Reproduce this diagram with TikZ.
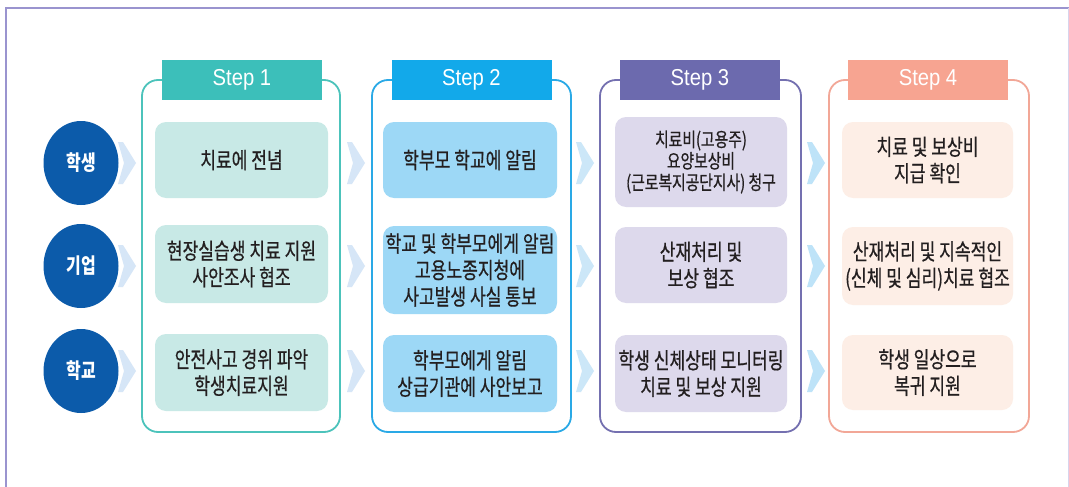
\documentclass[tikz,border=0pt]{standalone}
\usepackage{fontspec}
\newfontfamily\kr[FakeStretch=0.76,FakeBold=0.6]{Noto Sans CJK KR}
\newfontfamily\krb[FakeStretch=0.76]{Noto Sans CJK KR}
\newfontfamily\hd[FakeStretch=0.88]{Liberation Sans}
\usetikzlibrary{shapes.geometric}
\definecolor{frame}{HTML}{9A94CF}
\definecolor{circ}{HTML}{0C5BAA}
\definecolor{txt}{HTML}{231F20}
\definecolor{chevA}{HTML}{D6E6F7}
\definecolor{chevB}{HTML}{CCE7F8}
\definecolor{chevC}{HTML}{BEE3F8}
\definecolor{sOneH}{HTML}{3CBFBA}
\definecolor{sOneB}{HTML}{4CC3BB}
\definecolor{sOneF}{HTML}{C8E9E6}
\definecolor{sTwoH}{HTML}{12A9EA}
\definecolor{sTwoB}{HTML}{2AA9E6}
\definecolor{sTwoF}{HTML}{9DD8F6}
\definecolor{sThrH}{HTML}{6C6AAE}
\definecolor{sThrB}{HTML}{7470B0}
\definecolor{sThrF}{HTML}{DDD9EC}
\definecolor{sFouH}{HTML}{F7A491}
\definecolor{sFouB}{HTML}{F2A797}
\definecolor{sFouF}{HTML}{FDEEE6}
\tikzset{
  outerbox/.style={draw=#1, line width=1.8pt, rounded corners=16pt},
  header/.style={fill=#1, text=white, font=\hd\fontsize{23}{26}\selectfont,
    minimum width=160pt, minimum height=40pt, inner sep=0pt},
  inbox/.style={fill=#1, rounded corners=11pt, text=txt, align=center,
    font=\kr\fontsize{22.5}{26.5}\selectfont, inner sep=0pt},
  actor/.style={ellipse, fill=circ, text=white, minimum width=75pt, minimum height=84pt,
    inner sep=0pt, font=\krb\bfseries\fontsize{21}{24}\selectfont},
}
\newcommand\chevron[3]{\fill[#3] (#1,#2-21) -- (#1+5,#2-21) -- (#1+18,#2) -- (#1+5,#2+21) -- (#1,#2+21) -- (#1+6,#2) -- cycle;}
\begin{document}
\begin{tikzpicture}[x=1pt,y=-1pt]
\useasboundingbox (0,0) rectangle (1069,487);
\fill[white] (0,0) rectangle (1069,487);
% frame
\draw[frame, line width=2pt] (6,487) -- (6,8) -- (1069,8);
\draw[frame!40, line width=1pt] (1068,8) -- (1068,487);

% actors
\node[actor] (a1) at (81,163) {학생};
\node[actor] (a2) at (81,266) {기업};
\node[actor] (a3) at (81,371) {학교};

% outer boxes
\draw[outerbox=sOneB] (142,80) rectangle (340,432);
\draw[outerbox=sTwoB] (372,80) rectangle (571,432);
\draw[outerbox=sThrB] (600,80) rectangle (801,432);
\draw[outerbox=sFouB] (829,80) rectangle (1029,432);

% headers
\node[header=sOneH] (h1) at (242,80) {Step 1};
\node[header=sTwoH] (h2) at (471.5,80) {Step 2};
\node[header=sThrH] (h3) at (700,80) {Step 3};
\node[header=sFouH] (h4) at (928,80) {Step 4};

% step 1
\node[inbox=sOneF, minimum width=173pt, minimum height=76pt] (s11) at (241.5,160) {치료에 전념};
\node[inbox=sOneF, minimum width=173pt, minimum height=78pt] (s12) at (241.5,264) {현장실습생 치료 지원\\사안조사 협조};
\node[inbox=sOneF, minimum width=173pt, minimum height=77pt] (s13) at (241.5,372.5) {안전사고 경위 파악\\학생치료지원};

% step 2
\node[inbox=sTwoF, minimum width=174pt, minimum height=76pt] (s21) at (470,160) {학부모 학교에 알림};
\node[inbox=sTwoF, minimum width=174pt, minimum height=88pt] (s22) at (470,270) {학교 및 학부모에게 알림\\고용노종지청에\\사고발생 사실 통보};
\node[inbox=sTwoF, minimum width=174pt, minimum height=77pt] (s23) at (470,373.5) {학부모에게 알림\\상급기관에 사안보고};

% step 3
\node[inbox=sThrF, minimum width=172pt, minimum height=90pt, font=\kr\fontsize{19.5}{21.5}\selectfont] (s31) at (701,162) {치료비(고용주)\\요양보상비\\(근로복지공단지사) 청구};
\node[inbox=sThrF, minimum width=172pt, minimum height=76pt] (s32) at (701,265) {산재처리 및\\보상 협조};
\node[inbox=sThrF, minimum width=172pt, minimum height=77pt] (s33) at (701,373.5) {학생 신체상태 모니터링\\치료 및 보상 지원};

% step 4
\node[inbox=sFouF, minimum width=171pt, minimum height=76pt] (s41) at (927.5,160) {치료 및 보상비\\지급 확인};
\node[inbox=sFouF, minimum width=171pt, minimum height=78pt] (s42) at (927.5,266) {산재처리 및 지속적인\\(신체 및 심리)치료 협조};
\node[inbox=sFouF, minimum width=171pt, minimum height=75pt] (s43) at (927.5,372.5) {학생 일상으로\\복귀 지원};

% chevrons
\foreach \y in {163,266,371} {\chevron{118}{\y}{chevA}}
\foreach \y in {163,266,371} {\chevron{347}{\y}{chevA}}
\foreach \y in {163,266,371} {\chevron{576}{\y}{chevB}}
\foreach \y in {163,266,371} {\chevron{807}{\y}{chevC}}
\end{tikzpicture}
\end{document}
